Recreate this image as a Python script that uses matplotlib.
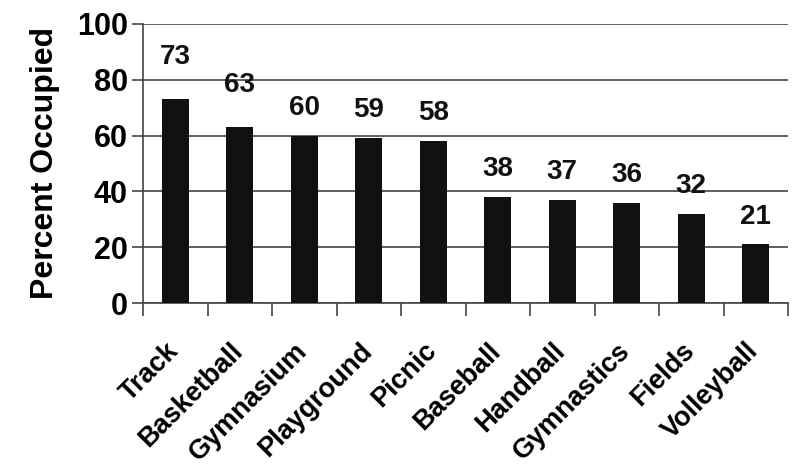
import numpy as np
import matplotlib
matplotlib.use("Agg")
import matplotlib.pyplot as plt
import matplotlib.transforms as mtransforms

plt.rcParams['font.family'] = ['Liberation Sans', 'DejaVu Sans']
plt.rcParams['font.weight'] = 'bold'

facilities = ['Track', 'Basketball', 'Gymnasium', 'Playground', 'Picnic',
              'Baseball', 'Handball', 'Gymnastics', 'Fields', 'Volleyball']
pct_occupied = [73, 63, 60, 59, 58, 38, 37, 36, 32, 21]

# label offsets above bars (first two labels sit a bit higher in the original)
label_offsets = [15, 15, 10, 10, 10, 10, 10, 10, 10, 10]

fig = plt.figure(figsize=(8, 4.67), dpi=100)
ax = fig.add_axes([0.179, 0.351, 0.806, 0.598])

x = np.arange(len(facilities))
ax.bar(x, pct_occupied, width=0.42, color='#111111', zorder=3)

for i, v in enumerate(pct_occupied):
    ax.text(x[i], v + label_offsets[i], str(v), ha='center', va='center',
            fontsize=20, fontweight='bold', color='#111111')

ax.set_xlim(-0.5, len(facilities) - 0.5)
ax.set_ylim(0, 100)
ax.set_yticks(np.arange(0, 101, 20))
ax.yaxis.grid(True, color='#444444', linewidth=1.2, zorder=0)
ax.set_axisbelow(True)

# category labels at bar centres, separator ticks between categories
ax.set_xticks(x)
ax.set_xticklabels(facilities, rotation=45, ha='right', va='top',
                   rotation_mode='anchor', fontsize=19.5, fontweight='bold')
ax.tick_params(axis='x', which='major', length=0, pad=25)
shift = mtransforms.ScaledTranslation(-0.1, 0, fig.dpi_scale_trans)
for lbl in ax.get_xticklabels():
    lbl.set_transform(lbl.get_transform() + shift)
ax.set_xticks(np.arange(-0.5, len(facilities) + 0.5, 1), minor=True)
ax.tick_params(axis='x', which='minor', length=9, width=1.2, color='#444444')

ax.tick_params(axis='y', length=8, width=1.2, color='#444444', labelsize=22, pad=3)
for lbl in ax.get_yticklabels():
    lbl.set_fontweight('bold')

ax.set_ylabel('Percent Occupied', fontsize=23, fontweight='bold', labelpad=12)

for side in ['top', 'right']:
    ax.spines[side].set_visible(False)
for side in ['left', 'bottom']:
    ax.spines[side].set_color('#444444')
    ax.spines[side].set_linewidth(1.2)

fig.savefig('out.png', dpi=100)
